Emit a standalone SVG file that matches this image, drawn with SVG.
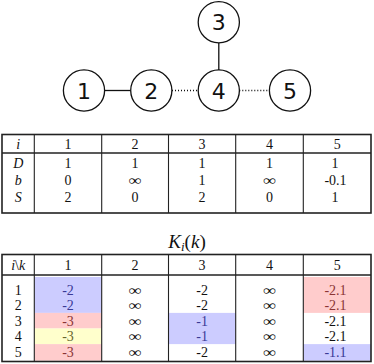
<svg xmlns="http://www.w3.org/2000/svg" width="374" height="364" viewBox="0 0 374 364">
<style>
.node circle{fill:#fff;stroke:#111;stroke-width:1.3}
.node text{font-family:"DejaVu Sans","Liberation Sans",sans-serif;font-size:22px;text-anchor:middle;fill:#111}
.edge{stroke:#111;stroke-width:1.3;fill:none}
.dot{stroke-dasharray:1 2}
.outer{fill:none;stroke:#222;stroke-width:1.6}
.in{stroke:#222;stroke-width:1.1}
.hd{stroke:#222;stroke-width:1.6}
.t{font-family:"Liberation Serif","Times New Roman",serif;font-size:14px;text-anchor:middle;fill:#111}
.it{font-style:italic}
.inf{font-size:14px}
.cb{fill:#ccccff}
.cr{fill:#ffcccc}
.cy{fill:#ffffcc}
.tb{fill:#3a3a96}
.tr{fill:#8a3434}
.ty{fill:#66662e}
</style>
<g id="connectors">
<line class="edge" x1="104.7" y1="90.5" x2="130.7" y2="90.5"/>
<line class="edge" x1="218.8" y1="42.7" x2="218.8" y2="70"/>
<line class="edge dot" x1="172" y1="90.5" x2="198.3" y2="90.5"/>
<line class="edge dot" x1="239.3" y1="90.5" x2="269.3" y2="90.5"/>
</g>
<g id="node1" class="node"><circle cx="84" cy="90.5" r="20.6"/><text x="84" y="98.5">1</text></g>
<g id="node2" class="node"><circle cx="151.3" cy="90.5" r="20.6"/><text x="151.3" y="98.5">2</text></g>
<g id="node3" class="node"><circle cx="218.8" cy="22.2" r="20.6"/><text x="218.8" y="30.2">3</text></g>
<g id="node4" class="node"><circle cx="218.8" cy="90.5" r="20.6"/><text x="218.8" y="98.5">4</text></g>
<g id="node5" class="node"><circle cx="290" cy="90.5" r="20.6"/><text x="290" y="98.5">5</text></g>

<g id="table1">
<rect class="outer" x="2" y="134.5" width="369" height="78.5"/>
<line class="hd" x1="2" y1="153" x2="371" y2="153"/>
<line class="in" x1="34.3" y1="134.5" x2="34.3" y2="213"/>
<line class="in" x1="101.7" y1="134.5" x2="101.7" y2="213"/>
<line class="in" x1="168.5" y1="134.5" x2="168.5" y2="213"/>
<line class="in" x1="235.7" y1="134.5" x2="235.7" y2="213"/>
<line class="in" x1="303.3" y1="134.5" x2="303.3" y2="213"/>
<text class="t it" x="18.2" y="148.5">i</text>
<text class="t" x="68" y="148.5">1</text>
<text class="t" x="135.1" y="148.5">2</text>
<text class="t" x="202.1" y="148.5">3</text>
<text class="t" x="269.5" y="148.5">4</text>
<text class="t" x="337.2" y="148.5">5</text>
<text class="t it" x="18.2" y="168">D</text>
<text class="t" x="68" y="168">1</text>
<text class="t" x="135.1" y="168">1</text>
<text class="t" x="202.1" y="168">1</text>
<text class="t" x="269.5" y="168">1</text>
<text class="t" x="335" y="168">1</text>
<text class="t it" x="18.2" y="185">b</text>
<text class="t" x="68" y="185">0</text>
<text class="t inf" x="135.1" y="185" textLength="13" lengthAdjust="spacingAndGlyphs">∞</text>
<text class="t" x="202.1" y="185">1</text>
<text class="t inf" x="269.5" y="185" textLength="13" lengthAdjust="spacingAndGlyphs">∞</text>
<text class="t" x="335.5" y="185">-0.1</text>
<text class="t it" x="18.2" y="202">S</text>
<text class="t" x="68" y="202">2</text>
<text class="t" x="135.1" y="202">0</text>
<text class="t" x="202.1" y="202">2</text>
<text class="t" x="269.5" y="202">0</text>
<text class="t" x="335" y="202">1</text>
</g>

<g id="title">
<text class="t" x="187" y="247.5" style="font-size:19px"><tspan class="it">K</tspan><tspan class="it" style="font-size:13px" dy="3">i</tspan><tspan dy="-3">(</tspan><tspan class="it">k</tspan>)</text>
</g>

<g id="table2">
<rect class="cb" x="34.3" y="277" width="67.4" height="35.9"/>
<rect class="cr" x="34.3" y="312.9" width="67.4" height="15.6"/>
<rect class="cy" x="34.3" y="328.5" width="67.4" height="15.6"/>
<rect class="cr" x="34.3" y="344.1" width="67.4" height="16.6"/>
<rect class="cb" x="168.5" y="312.9" width="67.2" height="31.2"/>
<rect class="cr" x="303.3" y="277" width="67.7" height="35.9"/>
<rect class="cb" x="303.3" y="344.1" width="67.7" height="16.6"/>
<rect class="outer" x="2" y="254.5" width="369" height="107"/>
<line class="hd" x1="2" y1="275" x2="371" y2="275"/>
<line class="in" x1="34.3" y1="254.5" x2="34.3" y2="361.5"/>
<line class="in" x1="101.7" y1="254.5" x2="101.7" y2="361.5"/>
<line class="in" x1="168.5" y1="254.5" x2="168.5" y2="361.5"/>
<line class="in" x1="235.7" y1="254.5" x2="235.7" y2="361.5"/>
<line class="in" x1="303.3" y1="254.5" x2="303.3" y2="361.5"/>
<text class="t" x="18.2" y="269.5"><tspan class="it">i</tspan>\<tspan class="it">k</tspan></text>
<text class="t" x="68" y="269.5">1</text>
<text class="t" x="135.1" y="269.5">2</text>
<text class="t" x="202.1" y="269.5">3</text>
<text class="t" x="269.5" y="269.5">4</text>
<text class="t" x="337.2" y="269.5">5</text>

<text class="t" x="18.2" y="294.5">1</text>
<text class="t" x="18.2" y="310">2</text>
<text class="t" x="18.2" y="325.5">3</text>
<text class="t" x="18.2" y="341">4</text>
<text class="t" x="18.2" y="356.5">5</text>

<text class="t tb" x="68" y="294.5">-2</text>
<text class="t tb" x="68" y="310">-2</text>
<text class="t tr" x="68" y="325.5">-3</text>
<text class="t ty" x="68" y="341">-3</text>
<text class="t tr" x="68" y="356.5">-3</text>

<text class="t inf" x="135.1" y="294.5" textLength="13" lengthAdjust="spacingAndGlyphs">∞</text>
<text class="t inf" x="135.1" y="310" textLength="13" lengthAdjust="spacingAndGlyphs">∞</text>
<text class="t inf" x="135.1" y="325.5" textLength="13" lengthAdjust="spacingAndGlyphs">∞</text>
<text class="t inf" x="135.1" y="341" textLength="13" lengthAdjust="spacingAndGlyphs">∞</text>
<text class="t inf" x="135.1" y="356.5" textLength="13" lengthAdjust="spacingAndGlyphs">∞</text>

<text class="t" x="202.1" y="294.5">-2</text>
<text class="t" x="202.1" y="310">-2</text>
<text class="t tb" x="202.1" y="325.5">-1</text>
<text class="t tb" x="202.1" y="341">-1</text>
<text class="t" x="202.1" y="356.5">-2</text>

<text class="t inf" x="269.5" y="294.5" textLength="13" lengthAdjust="spacingAndGlyphs">∞</text>
<text class="t inf" x="269.5" y="310" textLength="13" lengthAdjust="spacingAndGlyphs">∞</text>
<text class="t inf" x="269.5" y="325.5" textLength="13" lengthAdjust="spacingAndGlyphs">∞</text>
<text class="t inf" x="269.5" y="341" textLength="13" lengthAdjust="spacingAndGlyphs">∞</text>
<text class="t inf" x="269.5" y="356.5" textLength="13" lengthAdjust="spacingAndGlyphs">∞</text>

<text class="t tr" x="335.5" y="294.5">-2.1</text>
<text class="t tr" x="335.5" y="310">-2.1</text>
<text class="t" x="335.5" y="325.5">-2.1</text>
<text class="t" x="335.5" y="341">-2.1</text>
<text class="t tb" x="335.5" y="356.5">-1.1</text>
</g>
</svg>
